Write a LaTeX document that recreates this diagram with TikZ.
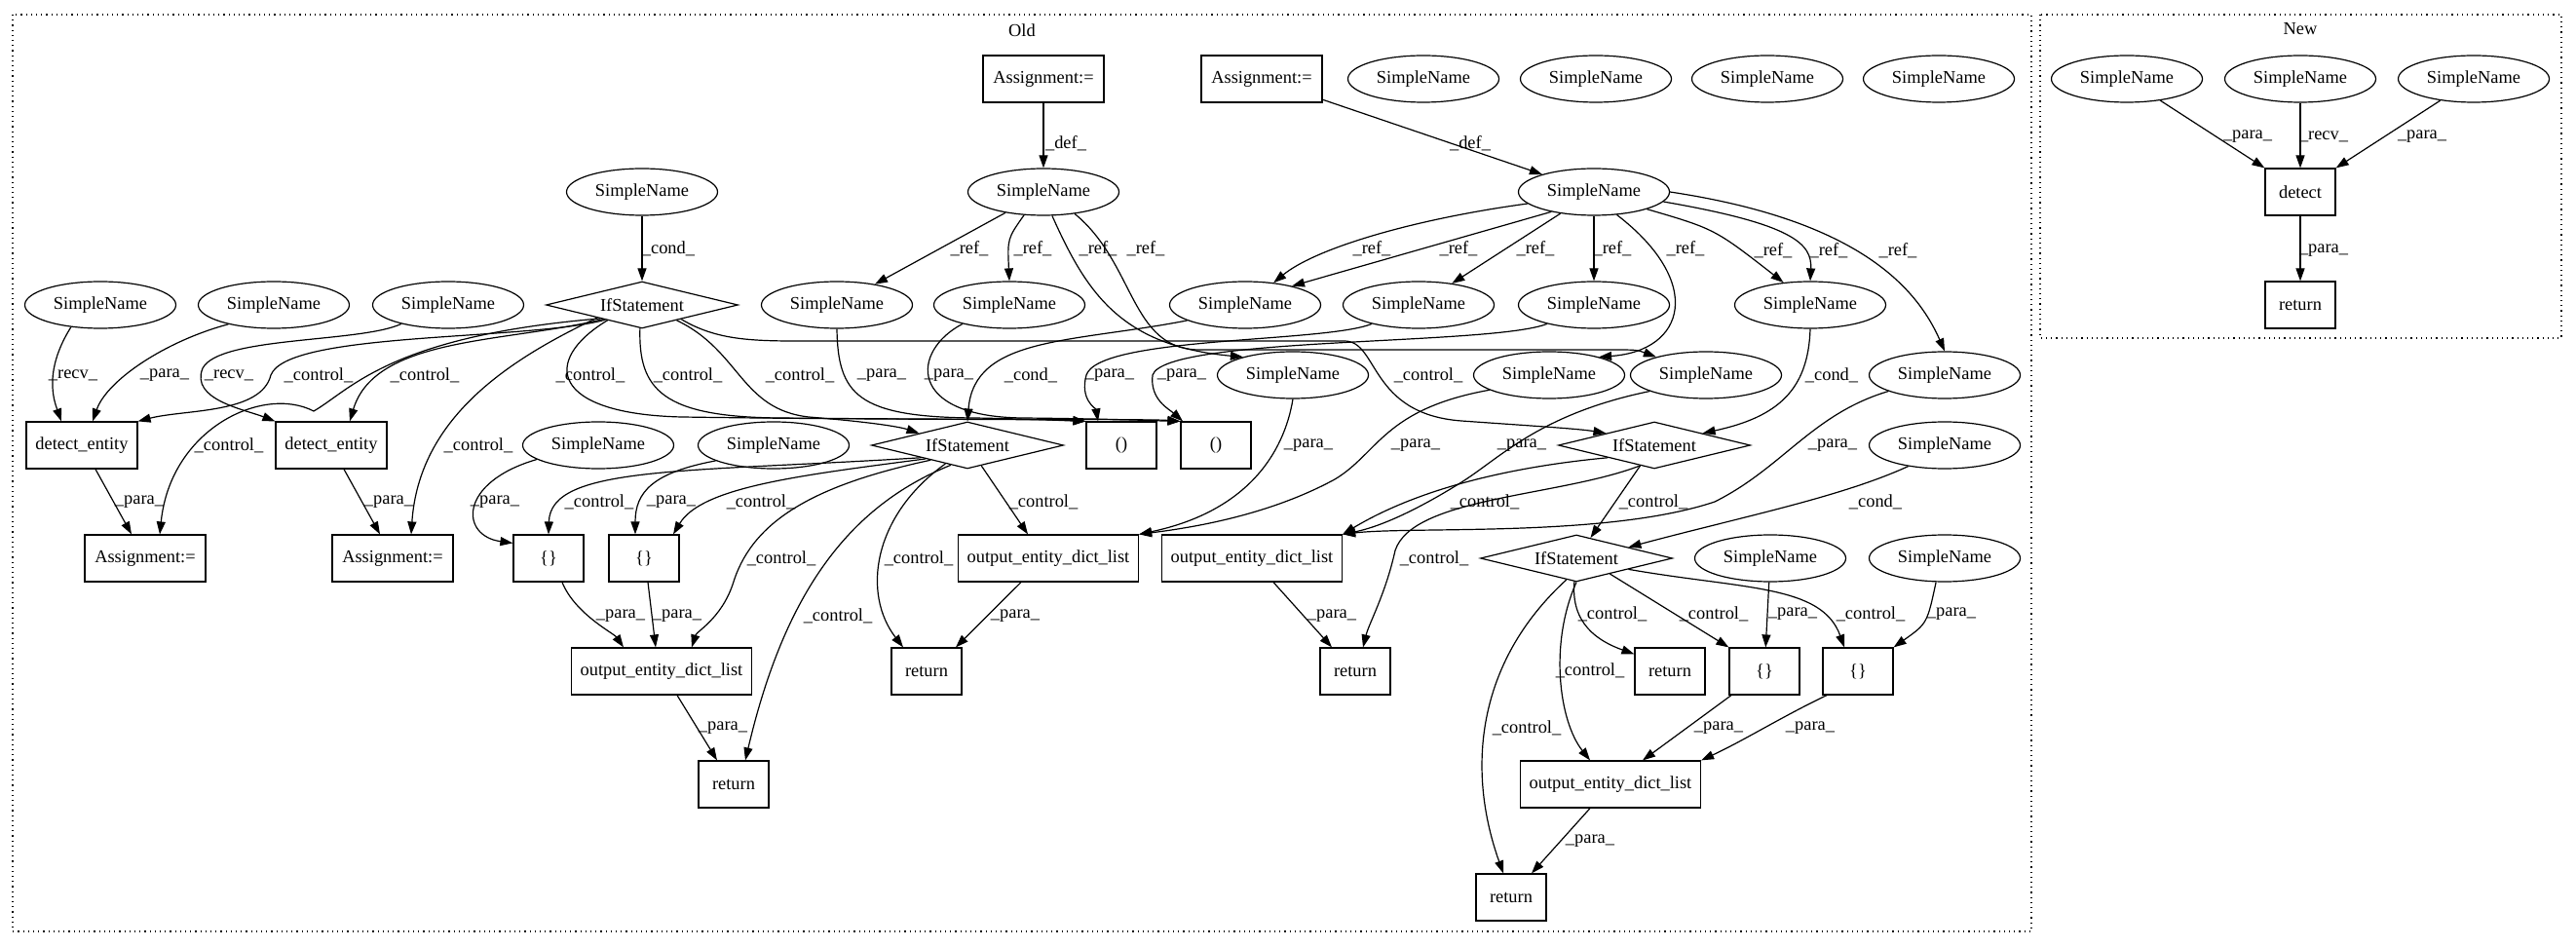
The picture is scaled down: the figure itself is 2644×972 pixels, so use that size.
\documentclass[tikz,border=0pt]{standalone}
\usepackage{fontspec}
\setmainfont{Liberation Serif}
\usetikzlibrary{shapes.geometric,arrows.meta}

\begin{document}
\begin{tikzpicture}[x=0.5pt,y=-0.5pt,line width=0.6pt,font=\fontsize{9.2}{11}\selectfont]
\tikzset{sname/.style={draw, ellipse, minimum width=77.5pt, minimum height=24pt, inner sep=0pt},
  blk/.style={draw, rectangle, minimum width=36pt, minimum height=24pt, inner sep=0pt},
  cnd/.style={draw, diamond, shape aspect=4, minimum width=98.5pt, minimum height=24pt, inner sep=0pt},
  arr/.style={-{Triangle[length=6.5pt,width=4.5pt]}},
  lbl/.style={inner sep=0pt},
  grp/.style={dotted}}
\useasboundingbox (0,0) rectangle (2644,972);
% clusters
\draw[grp] (13,15) rectangle (2085,956);
\draw[grp] (2094,15) rectangle (2629,347);
\node[lbl] (old) at (1049,31) {Old};
\node[lbl] (new) at (2361,30) {New};

% Old: nodes
\node[blk, minimum width=62pt] (A1) at (1071,81) {Assignment:=};
\node[blk, minimum width=62pt] (A2) at (1295,81) {Assignment:=};
\node[sname] (X1) at (1461,81) {SimpleName};
\node[sname] (X2) at (1638,81) {SimpleName};
\node[sname] (X3) at (1814,81) {SimpleName};
\node[sname] (X4) at (1990,81) {SimpleName};
\node[sname] (S3) at (659,197) {SimpleName};
\node[sname] (S1) at (1071,197) {SimpleName};
\node[sname] (S2) at (1636,197) {SimpleName};
\node[sname] (L1) at (103,313) {SimpleName};
\node[sname] (L2) at (281,313) {SimpleName};
\node[sname] (L3) at (460,313) {SimpleName};
\node[cnd] (IF1) at (659,313) {IfStatement};
\node[sname] (R1) at (859,313) {SimpleName};
\node[sname] (R2) at (1036,313) {SimpleName};
\node[sname] (R3) at (1278,313) {SimpleName};
\node[sname] (R4) at (1456,313) {SimpleName};
\node[sname] (R5) at (1636,313) {SimpleName};
\node[sname] (R6) at (1858,313) {SimpleName};
\node[sname] (R7) at (1327,385) {SimpleName};
\node[sname] (R8) at (1590,385) {SimpleName};
\node[sname] (R9) at (1751,385) {SimpleName};
\node[sname] (R10) at (1996,385) {SimpleName};
\node[blk, minimum width=57pt] (DE1) at (84,457) {detect\_entity};
\node[blk, minimum width=57pt] (DE2) at (340,457) {detect\_entity};
\node[sname] (SA) at (614,457) {SimpleName};
\node[sname] (SB) at (794,457) {SimpleName};
\node[cnd] (IF2) at (993,457) {IfStatement};
\node[blk] (P1) at (1151,457) {()};
\node[blk] (P2) at (1248,457) {()};
\node[cnd] (IF3) at (1698,457) {IfStatement};
\node[sname] (SC) at (1996,457) {SimpleName};
\node[blk, minimum width=62pt] (AS1) at (149,573) {Assignment:=};
\node[blk, minimum width=62pt] (AS2) at (403,573) {Assignment:=};
\node[blk] (B1) at (563,573) {\{\}};
\node[blk] (B2) at (661,573) {\{\}};
\node[blk, minimum width=92.5pt] (O2) at (1076,573) {output\_entity\_dict\_list};
\node[blk, minimum width=92.5pt] (O3) at (1285,573) {output\_entity\_dict\_list};
\node[cnd] (IF4) at (1618,573) {IfStatement};
\node[sname] (SD) at (1817,573) {SimpleName};
\node[sname] (SE) at (1996,573) {SimpleName};
\node[blk, minimum width=92.5pt] (O1) at (679,689) {output\_entity\_dict\_list};
\node[blk] (T2) at (951,689) {return};
\node[blk] (T3) at (1391,689) {return};
\node[blk] (T4) at (1714,689) {return};
\node[blk] (B3) at (1811,689) {\{\}};
\node[blk] (B4) at (1907,689) {\{\}};
\node[blk] (T1) at (753,805) {return};
\node[blk, minimum width=92.5pt] (O4) at (1653,805) {output\_entity\_dict\_list};
\node[blk] (T5) at (1551,921) {return};

% Old: def / ref
\draw[arr] (A1) -- (S1) node[lbl] at (1094,147) {\_def\_};
\draw[arr] (A2) -- (S2) node[lbl] at (1509,147) {\_def\_};
\draw[arr] (S3) -- (IF1) node[lbl] at (686,255) {\_cond\_};
\draw[arr] (S1) -- (R1) node[lbl] at (995,255) {\_ref\_};
\draw[arr] (S1.-130) .. controls (1034,245) .. (R2.north) node[lbl] at (1060,255) {\_ref\_};
\draw[arr] (S1.-70) .. controls (1115,300) and (1150,355) .. (R7.160) node[lbl] at (1127,255) {\_ref\_};
\draw[arr] (S1.-35) .. controls (1165,270) and (1160,358) .. (1230,359) -- (1650,359) .. controls (1680,359) .. (R9.160) node[lbl] at (1176,255) {\_ref\_};
\draw[arr] (S2.190) .. controls (1450,225) and (1350,255) .. (R3.38) node[lbl] at (1408,255) {\_ref\_};
\draw[arr] (S2.205) -- (R3.22) node[lbl] at (1497,255) {\_ref\_};
\draw[arr] (S2) -- (R4) node[lbl] at (1576,255) {\_ref\_};
\draw[arr] (S2) -- (R5) node[lbl] at (1655,255) {\_ref\_};
\draw[arr] (S2.-45) .. controls (1750,290) and (1730,360) .. (R8.20) node[lbl] at (1730,255) {\_ref\_};
\draw[arr] (S2.-18) .. controls (1760,235) .. (R6.140) node[lbl] at (1820,257) {\_ref\_};
\draw[arr] (S2.-8) .. controls (1840,230) and (1860,250) .. (R6.north) node[lbl] at (1877,257) {\_ref\_};
\draw[arr] (S2.east) .. controls (1900,225) and (1965,290) .. (R10.north) node[lbl] at (1948,257) {\_ref\_};

% Old: left part
\draw[arr] (L1.-143) .. controls (45,380) and (55,410) .. ([xshift=-10.5pt]DE1.north) node[lbl] at (75,385) {\_recv\_};
\draw[arr] (L2.-157) .. controls (170,350) and (110,390) .. ([xshift=5.5pt]DE1.north) node[lbl] at (169,385) {\_para\_};
\draw[arr] (L3.-158) .. controls (370,352) and (225,345) .. (208,378) .. controls (195,410) and (250,420) .. (DE2.north west) node[lbl] at (235,385) {\_recv\_};
\draw[arr] (IF1.-158) .. controls (540,350) and (295,340) .. (278,385) .. controls (268,425) and (190,420) .. (DE1.north east) node[lbl] at (327,385) {\_control\_};
\draw[arr] (IF1.-160) .. controls (520,352) and (385,345) .. ([xshift=9.5pt]DE2.north) node[lbl] at (436,385) {\_control\_};
\draw[arr] (IF1.-162) .. controls (400,345) and (360,400) .. (322,422) .. controls (270,395) and (175,440) .. ([xshift=7.5pt]AS1.north) node[lbl] at (235,457) {\_control\_};
\draw[arr] (IF1.-164) .. controls (520,370) and (430,430) .. ([xshift=9.5pt]AS2.north) node[lbl] at (491,457) {\_control\_};
\draw[arr] ([xshift=7pt]DE1.south) -- ([xshift=-7pt]AS1.north) node[lbl] at (143,515) {\_para\_};
\draw[arr] ([xshift=6.5pt]DE2.south) -- ([xshift=-6.5pt]AS2.north) node[lbl] at (399,515) {\_para\_};

% Old: middle part
\draw[arr] (IF1.-156) .. controls (555,370) and (565,425) .. (700,428) .. controls (900,431) and (1080,430) .. (P1.north west) node[lbl] at (606,385) {\_control\_};
\draw[arr] (IF1.-95) .. controls (655,400) and (680,428) .. (800,429) .. controls (1000,431) and (1180,430) .. (P2.north west) node[lbl] at (706,385) {\_control\_};
\draw[arr] (IF1.-24) .. controls (760,360) and (760,420) .. (830,428) .. controls (880,432) and (920,437) .. (IF2.north west) node[lbl] at (821,385) {\_control\_};
\draw[arr] (IF1.-20) .. controls (740,352) and (780,350) .. (850,350) -- (1380,350) .. controls (1415,350) and (1405,425) .. (1500,432) .. controls (1570,437) and (1620,440) .. (IF3.north west) node[lbl] at (1466,385) {\_control\_};
\draw[arr] (R1.south) .. controls (860,405) and (880,428) .. (1000,429) .. controls (1060,430) and (1100,432) .. (P1.north west) node[lbl] at (905,385) {\_para\_};
\draw[arr] (R2.-158) .. controls (935,360) and (930,428) .. (1050,429) .. controls (1150,430) and (1190,432) .. (P2.north west) node[lbl] at (974,385) {\_para\_};
\draw[arr] (R3.-165) .. controls (1100,352) and (1000,345) .. (IF2.north) node[lbl] at (1058,385) {\_cond\_};
\draw[arr] (R4.-158) .. controls (1360,352) and (1128,345) .. (1115,385) .. controls (1108,410) and (1125,420) .. ([xshift=-12pt]P1.north) node[lbl] at (1139,385) {\_para\_};
\draw[arr] (R5.-158) .. controls (1530,355) and (1196,345) .. (1183,385) .. controls (1180,410) and (1200,420) .. ([xshift=-17pt]P2.north) node[lbl] at (1213,385) {\_para\_};
\draw[arr] (R7.south) .. controls (1318,465) and (1280,525) .. (O2.north east) node[lbl] at (1343,457) {\_para\_};
\draw[arr] (R8.-166) .. controls (1420,420) and (1415,465) .. (1370,492) .. controls (1300,530) and (1220,542) .. (O2.north east) node[lbl] at (1453,457) {\_para\_};
\draw[arr] (R9.-164) .. controls (1580,425) and (1540,470) .. (1500,495) .. controls (1460,520) and (1420,540) .. (O3.north east) node[lbl] at (1562,457) {\_para\_};
\draw[arr] (R10.-164) .. controls (1860,425) and (1830,480) .. (1760,515) .. controls (1650,552) and (1450,540) .. (O3.north east) node[lbl] at (1881,457) {\_para\_};
\draw[arr] (R6.south) .. controls (1856,400) and (1825,428) .. (IF3.north east) node[lbl] at (1880,385) {\_cond\_};
\draw[arr] (SA.-167) .. controls (470,495) and (472,550) .. ([yshift=-4.5pt]B1.north west) node[lbl] at (508,515) {\_para\_};
\draw[arr] (SB.-165) .. controls (670,485) and (652,505) .. ([xshift=-4.5pt]B2.north) node[lbl] at (689,515) {\_para\_};
\draw[arr] (IF2.-165) .. controls (700,485) and (565,478) .. (B1.north) node[lbl] at (615,515) {\_control\_};
\draw[arr] (IF2.-162) .. controls (820,488) and (720,500) .. ([xshift=15pt]B2.north) node[lbl] at (781,515) {\_control\_};
\draw[arr] (IF2.-158) .. controls (825,500) and (770,540) .. (752,600) .. controls (740,635) and (715,648) .. ([xshift=15.5pt]O1.north) node[lbl] at (802,573) {\_control\_};
\draw[arr] (IF2.-140) .. controls (895,530) and (885,610) .. ([xshift=-12pt]T2.north) node[lbl] at (943,573) {\_control\_};
\draw[arr] (IF2.-130) .. controls (870,520) and (805,610) .. ([xshift=6pt]T1.north) node[lbl] at (860,632) {\_control\_};
\draw[arr] (IF2) -- ([xshift=-10.5pt]O2.north) node[lbl] at (1071,515) {\_control\_};
\draw[arr] ([xshift=7pt]B1.south) .. controls (590,630) and (630,650) .. ([xshift=-19.5pt]O1.north) node[lbl] at (637,632) {\_para\_};
\draw[arr] ([xshift=2pt]B2.south) -- ([xshift=-3pt]O1.north) node[lbl] at (695,632) {\_para\_};
\draw[arr] ([xshift=8pt]O1.south) -- ([xshift=-8.5pt]T1.north) node[lbl] at (742,747) {\_para\_};
\draw[arr] ([xshift=-14pt]O2.south) -- ([xshift=15pt]T2.north) node[lbl] at (1042,632) {\_para\_};
\draw[arr] ([xshift=11pt]O3.south) -- ([xshift=-12pt]T3.north) node[lbl] at (1367,632) {\_para\_};

% Old: right part
\draw[arr] (IF3.-165) .. controls (1540,480) and (1450,505) .. (O3.north east) node[lbl] at (1524,515) {\_control\_};
\draw[arr] (IF3) -- (IF4) node[lbl] at (1697,515) {\_control\_};
\draw[arr] (IF3.-125) .. controls (1600,510) and (1450,510) .. (1432,565) .. controls (1422,610) and (1405,640) .. ([xshift=4pt]T3.north) node[lbl] at (1472,573) {\_control\_};
\draw[arr] (SC.-150) .. controls (1890,510) and (1790,530) .. (IF4.12) node[lbl] at (1925,515) {\_cond\_};
\draw[arr] (IF4.-95) .. controls (1612,640) and (1640,658) .. ([yshift=-3.5pt]T4.north west) node[lbl] at (1655,630) {\_control\_};
\draw[arr] (IF4.-25) -- (B3.north west) node[lbl] at (1759,630) {\_control\_};
\draw[arr] (IF4.-12) .. controls (1790,605) and (1870,600) .. ([xshift=-7pt]B4.north) node[lbl] at (1920,630) {\_control\_};
\draw[arr] (SD) -- (B3) node[lbl] at (1840,630) {\_para\_};
\draw[arr] (SE.-110) .. controls (1978,640) .. (B4.north east) node[lbl] at (2003,630) {\_para\_};
\draw[arr] (IF4.south) .. controls (1590,660) and (1600,740) .. ([xshift=-10.5pt]O4.north) node[lbl] at (1632,688) {\_control\_};
\draw[arr] (IF4.-115) .. controls (1515,680) and (1505,790) .. ([xshift=-4pt]T5.north) node[lbl] at (1567,747) {\_control\_};
\draw[arr] ([xshift=-17pt]B3.south) -- ([xshift=16.5pt]O4.north) node[lbl] at (1764,747) {\_para\_};
\draw[arr] ([xshift=-16pt]B4.south) .. controls (1830,735) and (1790,760) .. (O4.north east) node[lbl] at (1858,747) {\_para\_};
\draw[arr] ([xshift=-10.5pt]O4.south) -- ([xshift=10.5pt]T5.north) node[lbl] at (1632,863) {\_para\_};

% New
\node[sname] (N1) at (2183,81) {SimpleName};
\node[sname] (N2) at (2361,81) {SimpleName};
\node[sname] (N3) at (2539,81) {SimpleName};
\node[blk] (DET) at (2361,197) {detect};
\node[blk] (TN) at (2361,313) {return};
\draw[arr] (N1) -- (DET.north west) node[lbl] at (2307,140) {\_para\_};
\draw[arr] (N2) -- (DET) node[lbl] at (2385,140) {\_recv\_};
\draw[arr] (N3) -- (DET.north east) node[lbl] at (2486,140) {\_para\_};
\draw[arr] (DET) -- (TN) node[lbl] at (2385,257) {\_para\_};
\end{tikzpicture}
\end{document}
